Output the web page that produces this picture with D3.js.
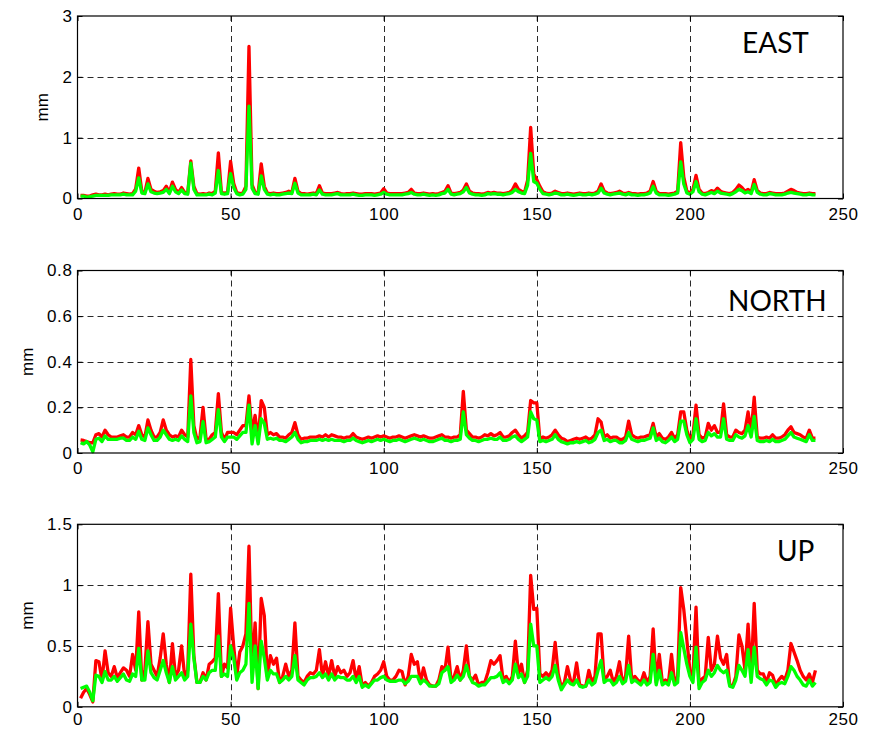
<!DOCTYPE html>
<html>
<head>
<meta charset="utf-8">
<script src="https://cdn.jsdelivr.net/npm/d3@7"></script>
<style>
  html, body { margin: 0; padding: 0; background: #fff; }
  svg { display: block; }
</style>
</head>
<body>
<svg id="chart" width="872" height="730"></svg>
<script>
// Epoch index on the x axis
const xTicks = [0, 50, 100, 150, 200, 250];

// EAST component (mm)
const eastTicks = [0, 1, 2, 3];
const eastRed = [
  0.05,0.05,0.04,0.04,0.06,0.07,0.06,0.06,0.07,0.06,
  0.07,0.08,0.07,0.07,0.09,0.08,0.07,0.08,0.16,0.50,
  0.12,0.10,0.33,0.15,0.12,0.10,0.11,0.13,0.20,0.10,
  0.27,0.15,0.10,0.18,0.10,0.09,0.62,0.20,0.08,0.07,
  0.08,0.07,0.09,0.08,0.12,0.75,0.10,0.09,0.10,0.61,
  0.25,0.10,0.08,0.09,0.20,2.50,0.23,0.10,0.09,0.57,
  0.20,0.09,0.08,0.09,0.08,0.08,0.09,0.10,0.12,0.10,
  0.33,0.12,0.08,0.08,0.07,0.08,0.09,0.08,0.21,0.09,
  0.08,0.08,0.08,0.09,0.10,0.08,0.07,0.08,0.08,0.09,
  0.08,0.07,0.07,0.08,0.08,0.08,0.07,0.08,0.09,0.16,
  0.09,0.08,0.08,0.08,0.08,0.08,0.09,0.10,0.15,0.09,
  0.08,0.08,0.09,0.08,0.07,0.08,0.07,0.08,0.10,0.12,
  0.21,0.09,0.08,0.09,0.10,0.14,0.24,0.12,0.09,0.08,
  0.08,0.07,0.08,0.10,0.09,0.10,0.09,0.09,0.08,0.09,
  0.10,0.14,0.24,0.15,0.12,0.10,0.30,1.17,0.40,0.31,
  0.20,0.11,0.09,0.08,0.09,0.12,0.10,0.08,0.08,0.09,
  0.08,0.07,0.08,0.09,0.08,0.08,0.09,0.08,0.09,0.12,
  0.24,0.12,0.09,0.08,0.09,0.10,0.12,0.09,0.08,0.10,
  0.08,0.08,0.07,0.08,0.08,0.09,0.12,0.28,0.12,0.08,
  0.08,0.08,0.07,0.08,0.09,0.12,0.92,0.35,0.12,0.09,
  0.15,0.38,0.15,0.09,0.08,0.10,0.13,0.11,0.17,0.12,
  0.10,0.09,0.08,0.10,0.15,0.22,0.18,0.12,0.15,0.10,
  0.31,0.13,0.09,0.08,0.08,0.10,0.09,0.08,0.08,0.08,
  0.09,0.12,0.15,0.13,0.10,0.09,0.08,0.08,0.09,0.08,0.08
];
const eastGreen = [
  0.04,0.04,0.02,0.03,0.04,0.05,0.05,0.05,0.05,0.05,
  0.06,0.06,0.06,0.06,0.07,0.06,0.06,0.06,0.12,0.34,
  0.09,0.08,0.24,0.11,0.09,0.08,0.09,0.10,0.15,0.08,
  0.20,0.11,0.08,0.14,0.08,0.07,0.58,0.15,0.06,0.06,
  0.06,0.06,0.07,0.06,0.09,0.46,0.08,0.07,0.08,0.41,
  0.18,0.08,0.06,0.07,0.15,1.52,0.17,0.08,0.07,0.37,
  0.15,0.07,0.06,0.07,0.06,0.06,0.07,0.08,0.09,0.08,
  0.25,0.09,0.06,0.06,0.06,0.06,0.07,0.06,0.14,0.07,
  0.06,0.06,0.06,0.07,0.08,0.06,0.06,0.06,0.06,0.07,
  0.06,0.05,0.05,0.06,0.06,0.06,0.05,0.06,0.07,0.10,
  0.07,0.06,0.06,0.06,0.06,0.06,0.07,0.08,0.10,0.07,
  0.06,0.06,0.07,0.06,0.05,0.06,0.05,0.06,0.08,0.09,
  0.15,0.07,0.06,0.07,0.08,0.11,0.18,0.09,0.07,0.06,
  0.06,0.05,0.06,0.08,0.07,0.08,0.07,0.07,0.06,0.07,
  0.08,0.10,0.15,0.11,0.09,0.08,0.22,0.74,0.28,0.25,
  0.15,0.08,0.07,0.06,0.07,0.09,0.08,0.06,0.06,0.07,
  0.06,0.05,0.06,0.07,0.06,0.06,0.07,0.06,0.07,0.09,
  0.17,0.09,0.07,0.06,0.07,0.08,0.09,0.07,0.06,0.08,
  0.06,0.06,0.05,0.06,0.06,0.07,0.09,0.20,0.09,0.06,
  0.06,0.06,0.05,0.06,0.07,0.09,0.60,0.24,0.09,0.07,
  0.11,0.28,0.11,0.07,0.06,0.08,0.10,0.08,0.12,0.09,
  0.08,0.07,0.06,0.08,0.11,0.15,0.13,0.09,0.11,0.08,
  0.23,0.10,0.07,0.06,0.06,0.08,0.07,0.06,0.06,0.06,
  0.07,0.09,0.10,0.09,0.08,0.07,0.06,0.06,0.07,0.06,0.06
];

// NORTH component (mm)
const northTicks = [0, 0.2, 0.4, 0.6, 0.8];
const northRed = [
  0.057,0.055,0.05,0.045,0.045,0.08,0.085,0.07,0.10,0.08,
  0.07,0.07,0.07,0.075,0.08,0.07,0.07,0.09,0.08,0.12,
  0.08,0.07,0.145,0.10,0.07,0.07,0.09,0.145,0.10,0.08,
  0.07,0.075,0.07,0.10,0.08,0.07,0.41,0.12,0.06,0.07,
  0.20,0.06,0.06,0.08,0.09,0.26,0.09,0.06,0.09,0.09,
  0.09,0.08,0.10,0.12,0.12,0.25,0.09,0.165,0.06,0.23,
  0.20,0.08,0.09,0.08,0.085,0.07,0.07,0.065,0.08,0.09,
  0.133,0.08,0.06,0.065,0.065,0.07,0.07,0.07,0.075,0.07,
  0.08,0.07,0.08,0.075,0.07,0.07,0.065,0.07,0.07,0.085,
  0.07,0.065,0.06,0.065,0.07,0.065,0.07,0.075,0.07,0.075,
  0.07,0.065,0.07,0.07,0.075,0.07,0.065,0.07,0.075,0.08,
  0.075,0.07,0.075,0.07,0.065,0.065,0.07,0.075,0.08,0.07,
  0.07,0.065,0.07,0.07,0.08,0.27,0.10,0.085,0.07,0.07,
  0.065,0.07,0.08,0.075,0.085,0.075,0.08,0.09,0.07,0.07,
  0.075,0.09,0.10,0.08,0.065,0.075,0.09,0.23,0.22,0.22,
  0.06,0.07,0.065,0.07,0.08,0.10,0.08,0.065,0.06,0.05,
  0.055,0.06,0.065,0.06,0.065,0.07,0.06,0.065,0.08,0.15,
  0.135,0.07,0.08,0.065,0.07,0.07,0.06,0.06,0.07,0.14,
  0.08,0.07,0.065,0.07,0.07,0.075,0.08,0.13,0.07,0.085,
  0.065,0.06,0.07,0.09,0.065,0.08,0.18,0.18,0.10,0.06,
  0.08,0.21,0.08,0.065,0.07,0.13,0.10,0.12,0.09,0.09,
  0.215,0.08,0.07,0.07,0.10,0.09,0.085,0.10,0.18,0.09,
  0.245,0.07,0.065,0.065,0.07,0.065,0.08,0.065,0.065,0.07,
  0.08,0.10,0.115,0.09,0.085,0.08,0.07,0.065,0.10,0.065,0.065
];
const northGreen = [
  0.045,0.04,0.05,0.035,0.005,0.06,0.065,0.05,0.075,0.06,
  0.06,0.06,0.06,0.065,0.065,0.055,0.055,0.07,0.06,0.095,
  0.06,0.055,0.11,0.08,0.055,0.055,0.07,0.10,0.08,0.06,
  0.055,0.06,0.055,0.075,0.06,0.05,0.25,0.09,0.045,0.05,
  0.137,0.045,0.05,0.06,0.07,0.19,0.07,0.05,0.07,0.07,
  0.07,0.06,0.075,0.09,0.09,0.21,0.04,0.12,0.04,0.15,
  0.13,0.06,0.065,0.06,0.065,0.055,0.055,0.05,0.06,0.07,
  0.09,0.06,0.045,0.05,0.05,0.055,0.055,0.055,0.06,0.055,
  0.06,0.055,0.06,0.055,0.055,0.055,0.05,0.055,0.055,0.065,
  0.055,0.05,0.045,0.05,0.055,0.05,0.055,0.06,0.055,0.06,
  0.055,0.05,0.055,0.055,0.06,0.055,0.05,0.055,0.06,0.065,
  0.06,0.055,0.06,0.055,0.05,0.05,0.055,0.06,0.065,0.055,
  0.055,0.05,0.055,0.055,0.06,0.18,0.08,0.065,0.055,0.055,
  0.05,0.055,0.06,0.06,0.065,0.06,0.06,0.07,0.055,0.055,
  0.06,0.07,0.075,0.06,0.05,0.06,0.07,0.18,0.15,0.145,
  0.05,0.055,0.05,0.055,0.06,0.08,0.06,0.05,0.045,0.04,
  0.045,0.045,0.05,0.045,0.05,0.055,0.045,0.05,0.06,0.09,
  0.10,0.055,0.06,0.05,0.055,0.055,0.045,0.045,0.055,0.09,
  0.06,0.055,0.05,0.055,0.055,0.06,0.065,0.11,0.055,0.065,
  0.05,0.045,0.055,0.07,0.05,0.06,0.14,0.14,0.08,0.045,
  0.06,0.15,0.06,0.05,0.055,0.09,0.075,0.085,0.07,0.07,
  0.15,0.06,0.055,0.055,0.08,0.07,0.065,0.075,0.12,0.07,
  0.16,0.055,0.05,0.05,0.055,0.05,0.06,0.05,0.05,0.055,
  0.06,0.075,0.09,0.07,0.065,0.06,0.055,0.05,0.08,0.055,0.055
];

// UP component (mm)
const upTicks = [0, 0.5, 1, 1.5];
const upRed = [
  0.07,0.12,0.15,0.10,0.04,0.38,0.37,0.22,0.46,0.28,
  0.25,0.33,0.24,0.28,0.32,0.30,0.25,0.43,0.30,0.78,
  0.22,0.30,0.70,0.35,0.30,0.25,0.40,0.60,0.35,0.20,
  0.52,0.25,0.30,0.50,0.25,0.30,1.09,0.42,0.20,0.20,
  0.28,0.22,0.35,0.37,0.40,0.93,0.25,0.35,0.32,0.81,
  0.50,0.25,0.45,0.50,0.60,1.32,0.30,0.69,0.15,0.89,
  0.75,0.25,0.42,0.35,0.40,0.20,0.25,0.35,0.25,0.30,
  0.69,0.25,0.22,0.20,0.25,0.28,0.27,0.30,0.47,0.25,
  0.37,0.25,0.38,0.25,0.33,0.28,0.30,0.25,0.28,0.38,
  0.22,0.33,0.17,0.20,0.17,0.20,0.25,0.27,0.30,0.37,
  0.25,0.22,0.22,0.25,0.30,0.29,0.18,0.25,0.43,0.35,
  0.37,0.20,0.32,0.22,0.18,0.17,0.17,0.22,0.33,0.30,
  0.49,0.22,0.25,0.33,0.22,0.30,0.50,0.25,0.22,0.26,
  0.18,0.20,0.20,0.28,0.38,0.35,0.38,0.42,0.22,0.25,
  0.20,0.25,0.54,0.27,0.35,0.20,0.30,1.08,0.80,0.81,
  0.27,0.25,0.28,0.25,0.30,0.53,0.27,0.16,0.20,0.33,
  0.22,0.20,0.36,0.18,0.17,0.17,0.30,0.20,0.25,0.60,
  0.60,0.22,0.25,0.30,0.20,0.25,0.37,0.20,0.25,0.58,
  0.22,0.25,0.22,0.20,0.28,0.20,0.25,0.64,0.20,0.43,
  0.20,0.22,0.20,0.43,0.20,0.25,0.98,0.80,0.55,0.30,
  0.25,0.82,0.18,0.23,0.25,0.57,0.30,0.35,0.58,0.40,
  0.35,0.43,0.18,0.17,0.25,0.59,0.50,0.30,0.68,0.25,
  0.85,0.30,0.27,0.27,0.20,0.28,0.26,0.18,0.22,0.25,
  0.22,0.30,0.52,0.45,0.38,0.30,0.25,0.22,0.27,0.20,0.30
];
const upGreen = [
  0.15,0.16,0.17,0.12,0.05,0.26,0.25,0.20,0.29,0.22,
  0.22,0.25,0.21,0.24,0.27,0.22,0.21,0.27,0.25,0.48,
  0.22,0.22,0.46,0.28,0.24,0.22,0.30,0.38,0.28,0.20,
  0.33,0.22,0.25,0.28,0.22,0.25,0.68,0.40,0.20,0.20,
  0.25,0.22,0.28,0.30,0.30,0.58,0.25,0.27,0.25,0.50,
  0.40,0.22,0.28,0.30,0.35,0.85,0.20,0.50,0.15,0.54,
  0.40,0.22,0.30,0.27,0.27,0.20,0.22,0.25,0.22,0.25,
  0.42,0.22,0.20,0.18,0.22,0.24,0.24,0.25,0.28,0.24,
  0.27,0.22,0.27,0.22,0.25,0.24,0.24,0.22,0.22,0.25,
  0.20,0.25,0.16,0.18,0.16,0.19,0.22,0.22,0.24,0.25,
  0.22,0.21,0.21,0.21,0.22,0.22,0.19,0.21,0.25,0.25,
  0.25,0.19,0.22,0.20,0.17,0.17,0.17,0.19,0.28,0.30,
  0.33,0.20,0.22,0.26,0.22,0.25,0.34,0.25,0.20,0.19,
  0.17,0.18,0.18,0.21,0.24,0.24,0.25,0.28,0.20,0.22,
  0.19,0.22,0.35,0.24,0.27,0.20,0.25,0.68,0.50,0.50,
  0.20,0.22,0.24,0.22,0.25,0.34,0.22,0.14,0.18,0.22,
  0.19,0.18,0.22,0.17,0.16,0.17,0.22,0.18,0.20,0.30,
  0.38,0.20,0.22,0.22,0.18,0.20,0.25,0.19,0.21,0.34,
  0.20,0.22,0.20,0.18,0.22,0.18,0.20,0.43,0.18,0.30,
  0.18,0.20,0.18,0.28,0.18,0.20,0.61,0.48,0.35,0.25,
  0.20,0.49,0.15,0.20,0.22,0.30,0.25,0.28,0.34,0.30,
  0.28,0.30,0.17,0.16,0.22,0.34,0.30,0.25,0.47,0.20,
  0.49,0.25,0.23,0.22,0.18,0.22,0.21,0.16,0.19,0.20,
  0.19,0.25,0.33,0.30,0.25,0.22,0.18,0.17,0.22,0.17,0.20
];

// Panel set-up built from the arrays above
const panels = [
  { title: "EAST",  ticks: eastTicks,  red: eastRed,  green: eastGreen,  top: 16,    labelX: 42, titleX: 742, titleY: 53,  xPad: 9 },
  { title: "NORTH", ticks: northTicks, red: northRed, green: northGreen, top: 270.5, labelX: 27, titleX: 728, titleY: 311, xPad: 9 },
  { title: "UP",    ticks: upTicks,    red: upRed,    green: upGreen,    top: 524.3, labelX: 27, titleX: 777, titleY: 561, xPad: 6 }
];

const svg = d3.select("#chart");
const left = 77.5, right = 843, plotH = 182.5;
const tickFont = "'Liberation Sans', Arial, sans-serif";
const tickSize = 17;

const x = d3.scaleLinear().domain([0, 250]).range([left, right]);

panels.forEach(p => {
  const yMax = p.ticks[p.ticks.length - 1];
  const y = d3.scaleLinear().domain([0, yMax]).range([p.top + plotH, p.top]);
  const g = svg.append("g");

  // dashed grid at interior ticks
  g.append("g").selectAll("line")
    .data(xTicks.filter(t => t > 0 && t < 250))
    .join("line")
    .attr("x1", d => Math.round(x(d)) + 0.5).attr("x2", d => Math.round(x(d)) + 0.5)
    .attr("y1", p.top).attr("y2", p.top + plotH)
    .attr("stroke", "#2a2a2a").attr("stroke-width", 1).attr("stroke-dasharray", "6,4");
  g.append("g").selectAll("line")
    .data(p.ticks.filter(t => t > 0 && t < yMax))
    .join("line")
    .attr("x1", left).attr("x2", right)
    .attr("y1", d => Math.round(y(d)) + 0.5).attr("y2", d => Math.round(y(d)) + 0.5)
    .attr("stroke", "#2a2a2a").attr("stroke-width", 1).attr("stroke-dasharray", "6,4");

  // data lines, red first, green on top
  const line = d3.line().x((d, i) => x(i + 1)).y(d => y(d));
  g.append("path").datum(p.red).attr("d", line)
    .attr("fill", "none").attr("stroke", "#ff0000").attr("stroke-width", 3.3)
    .attr("stroke-linejoin", "round");
  g.append("path").datum(p.green).attr("d", line)
    .attr("fill", "none").attr("stroke", "#00ff00").attr("stroke-width", 3.3)
    .attr("stroke-linejoin", "round");

  // axes with inward ticks on all four sides
  const bottom = d3.axisBottom(x).tickValues(xTicks).tickSizeInner(-5).tickSizeOuter(0).tickPadding(p.xPad);
  const topAx = d3.axisTop(x).tickValues(xTicks).tickSizeInner(-5).tickSizeOuter(0).tickFormat("");
  const leftAx = d3.axisLeft(y).tickValues(p.ticks).tickSizeInner(-5).tickSizeOuter(0).tickPadding(5).tickFormat(d => String(d));
  const rightAx = d3.axisRight(y).tickValues(p.ticks).tickSizeInner(-5).tickSizeOuter(0).tickFormat("");

  [
    g.append("g").attr("transform", `translate(0,${p.top + plotH})`).call(bottom),
    g.append("g").attr("transform", `translate(0,${p.top})`).call(topAx),
    g.append("g").attr("transform", `translate(${left},0)`).call(leftAx),
    g.append("g").attr("transform", `translate(${right},0)`).call(rightAx)
  ].forEach(a => {
    a.attr("font-family", tickFont).attr("font-size", tickSize);
    a.select(".domain").remove();
    a.selectAll("line").attr("stroke", "#000");
    a.selectAll("text").attr("fill", "#000").attr("letter-spacing", "0.6px");
  });

  // plot frame
  g.append("rect")
    .attr("x", left).attr("y", p.top).attr("width", right - left).attr("height", plotH)
    .attr("fill", "none").attr("stroke", "#000").attr("stroke-width", 1.2);

  // y axis label
  g.append("text")
    .attr("transform", `translate(${p.labelX + 6},${p.top + plotH / 2}) rotate(-90)`)
    .attr("text-anchor", "middle")
    .attr("font-family", tickFont).attr("font-size", tickSize)
    .text("mm");

  // component title
  g.append("text")
    .attr("x", p.titleX).attr("y", p.titleY)
    .attr("font-family", "Lato, 'Open Sans', sans-serif").attr("font-size", 28)
    .attr("fill", "#000")
    .text(p.title);
});
</script>
</body>
</html>
